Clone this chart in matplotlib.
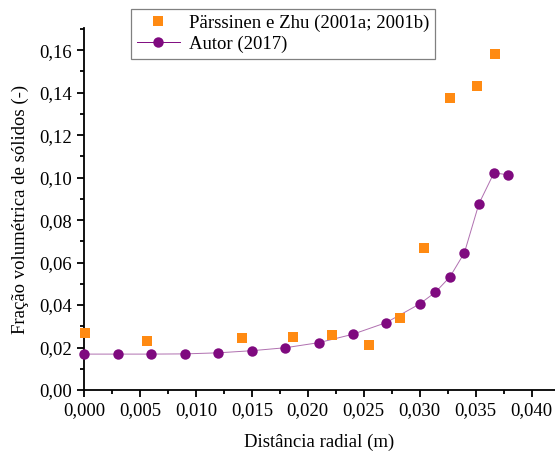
import numpy as np
import matplotlib.pyplot as plt
from matplotlib.ticker import MultipleLocator, FuncFormatter

plt.rcParams['font.family'] = ['Liberation Serif', 'DejaVu Serif']
plt.rcParams['font.size'] = 13

# Pärssinen e Zhu (2001a; 2001b)
x_pz = [0.0001, 0.0056, 0.0141, 0.0187, 0.0222, 0.0255, 0.0282, 0.0304, 0.0327, 0.0351, 0.0367]
y_pz = [0.0270, 0.0229, 0.0245, 0.0249, 0.0257, 0.0210, 0.0340, 0.0670, 0.1377, 0.1432, 0.1583]

# Autor (2017)
x_aut = [0.000, 0.003, 0.006, 0.009, 0.012, 0.015, 0.018, 0.021, 0.024, 0.027,
         0.030, 0.0314, 0.0327, 0.0340, 0.0353, 0.03665, 0.0379]
y_aut = [0.0169, 0.0169, 0.0169, 0.0170, 0.0175, 0.0185, 0.0199, 0.0223, 0.0262, 0.0317,
         0.0405, 0.0460, 0.0532, 0.0646, 0.0877, 0.1023, 0.1013]

fig = plt.figure(figsize=(5.55, 4.54), dpi=100)
ax = fig.add_axes([0.1514, 0.141, 0.8486, 0.797])

laranja = '#ff8a12'
roxo = '#7f0a7f'

ax.plot(x_pz, y_pz, 's', color=laranja, markersize=6.5, markeredgewidth=0,
        label='Pärssinen e Zhu (2001a; 2001b)', clip_on=False, zorder=3)
ax.plot(x_aut, y_aut, '-', color='#b070b0', linewidth=0.7, zorder=2)
ax.plot(x_aut, y_aut, 'o', color=roxo, markersize=7.5, markeredgewidth=0,
        clip_on=False, zorder=4)
# entrada da legenda com marcador e linha
ax.plot([], [], 'o-', color=roxo, markersize=7.5, markeredgewidth=0,
        linewidth=0.7, label='Autor (2017)')

ax.set_xlim(0, 0.0421)
ax.set_ylim(0, 0.1704)

ax.xaxis.set_major_locator(MultipleLocator(0.005))
ax.xaxis.set_minor_locator(MultipleLocator(0.0025))
ax.yaxis.set_major_locator(MultipleLocator(0.02))
ax.yaxis.set_minor_locator(MultipleLocator(0.01))
ax.xaxis.set_major_formatter(FuncFormatter(lambda v, p: f'{v:.3f}'.replace('.', ',')))
ax.yaxis.set_major_formatter(FuncFormatter(lambda v, p: f'{v:.2f}'.replace('.', ',')))

for s in ['top', 'right']:
    ax.spines[s].set_visible(False)
for s in ['left', 'bottom']:
    ax.spines[s].set_linewidth(1.3)
ax.tick_params(which='major', direction='out', length=5, width=1.3, labelsize=13.5, pad=4)
ax.tick_params(which='minor', direction='out', length=3, width=1.3)

ax.set_xlabel('Distância radial (m)', fontsize=13.5, labelpad=10)
ax.set_ylabel('Fração volumétrica de sólidos (-)', fontsize=13.5, labelpad=7)

leg = ax.legend(loc='upper left', bbox_to_anchor=(131 / 555, 1 - 9 / 454),
                bbox_transform=fig.transFigure, fancybox=False, framealpha=1,
                edgecolor='#808080', fontsize=13.5, borderpad=0.3,
                labelspacing=0.2, handlelength=2.3, handletextpad=0.5,
                borderaxespad=0)
leg.get_frame().set_linewidth(0.9)

fig.savefig('out.png', dpi=100)
